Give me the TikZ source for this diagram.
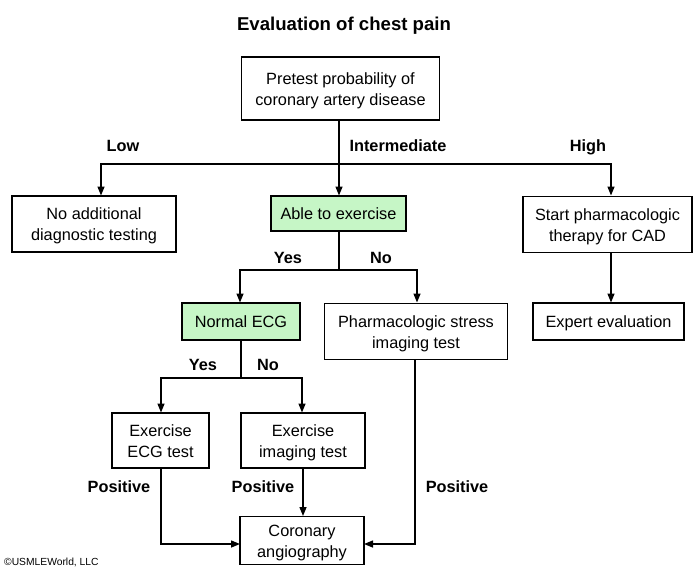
\documentclass[tikz,border=0pt]{standalone}
\usepackage{fontspec}
\setmainfont{Liberation Sans}
\usetikzlibrary{arrows.meta,calc}
\definecolor{boxgreen}{HTML}{C6F6C6}
\tikzset{
  bx/.style={draw=black, line width=1.6pt, fill=white, align=center, inner sep=0pt,
    font=\fontsize{16.3}{21}\selectfont, text height=12.5pt, text depth=0pt},
  bxtwo/.style={bx, text height=33pt, text depth=0pt},
  gbx/.style={bx, fill=boxgreen},
  lbl/.style={font=\fontsize{16.3}{18}\selectfont\bfseries, inner sep=0pt, text height=12pt, text depth=0pt},
  ar/.style={line width=1.4pt, -{Triangle[length=9pt,width=7pt]}},
  ln/.style={line width=1.4pt}
}
\begin{document}
\begin{tikzpicture}[x=1pt,y=-1pt]
\useasboundingbox[fill=white] (0,0) rectangle (700,574);
\node[font=\fontsize{18.6}{22}\selectfont\bfseries, inner sep=0pt, text height=13.5pt, text depth=0pt] (title) at (344,24) {Evaluation of chest pain};

\node[bxtwo, minimum width=198pt, minimum height=63pt] (pre) at (340.5,88.5) {Pretest probability of\\coronary artery disease};
\node[bxtwo, minimum width=164pt, minimum height=56pt] (noadd) at (94,224) {No additional\\diagnostic testing};
\node[gbx, minimum width=135pt, minimum height=35pt] (able) at (338.5,213.5) {Able to exercise};
\node[bxtwo, minimum width=169pt, minimum height=56pt] (start) at (607.5,224.5) {Start pharmacologic\\therapy for CAD};
\node[gbx, minimum width=118pt, minimum height=37pt] (necg) at (241,321.5) {Normal ECG};
\node[bxtwo, minimum width=183pt, minimum height=56pt] (pharm) at (416,331.5) {Pharmacologic stress\\imaging test};
\node[bx, minimum width=151pt, minimum height=37pt] (expert) at (608.5,321.5) {Expert evaluation};
\node[bxtwo, minimum width=97pt, minimum height=55pt] (execg) at (160.5,440.5) {Exercise\\ECG test};
\node[bxtwo, minimum width=124pt, minimum height=55pt] (exim) at (303,440.5) {Exercise\\imaging test};
\node[bxtwo, minimum width=124pt, minimum height=48pt] (cor) at (302,540.5) {Coronary\\angiography};

% junctions and arrow ends
\coordinate (j1) at (339,164);
\coordinate (eL) at (101,195.5);
\coordinate (eM) at (339,195.5);
\coordinate (eR) at (611,195.5);
\coordinate (j2) at (339,270);
\coordinate (eY) at (240,302.5);
\coordinate (eN) at (417,302.5);
\coordinate (sB) at (611,252.5);
\coordinate (eE) at (611,302.5);
\coordinate (j3) at (241,378);
\coordinate (eY2) at (161,412.5);
\coordinate (eN2) at (302,412.5);
\coordinate (sE) at (161,468);
\coordinate (sI) at (303,468);
\coordinate (eI) at (303,516);
\coordinate (sP) at (415,359.5);
\coordinate (eW) at (240,544);
\coordinate (eEa) at (364,544);

\draw[ln] (pre.south -| j1) -- (j1);
\draw[ar] (j1) -| (eL);
\draw[ar] (j1) -| (eR);
\draw[ar] (j1) -- (eM);
\draw[ln] (able.south -| j2) -- (j2);
\draw[ar] (j2) -| (eY);
\draw[ar] (j2) -| (eN);
\draw[ar] (sB) -- (eE);
\draw[ln] (necg.south -| j3) -- (j3);
\draw[ar] (j3) -| (eY2);
\draw[ar] (j3) -| (eN2);
\draw[ar] (sE) |- (eW);
\draw[ar] (sI) -- (eI);
\draw[ar] (sP) |- (eEa);

\node[lbl] (low) at (123,145) {Low};
\node[lbl] (inter) at (398,145) {Intermediate};
\node[lbl] (high) at (588,145) {High};
\node[lbl] (yes1) at (288,257) {Yes};
\node[lbl] (no1) at (381,257) {No};
\node[lbl] (yes2) at (203,364) {Yes};
\node[lbl] (no2) at (268,364) {No};
\node[lbl] (pos1) at (119,486) {Positive};
\node[lbl] (pos2) at (263,486) {Positive};
\node[lbl] (pos3) at (457,486) {Positive};
\node[anchor=west, inner sep=0pt, font=\fontsize{10.3}{12}\selectfont] (copy) at (4,562) {\textcopyright USMLEWorld, LLC};
\end{tikzpicture}
\end{document}
